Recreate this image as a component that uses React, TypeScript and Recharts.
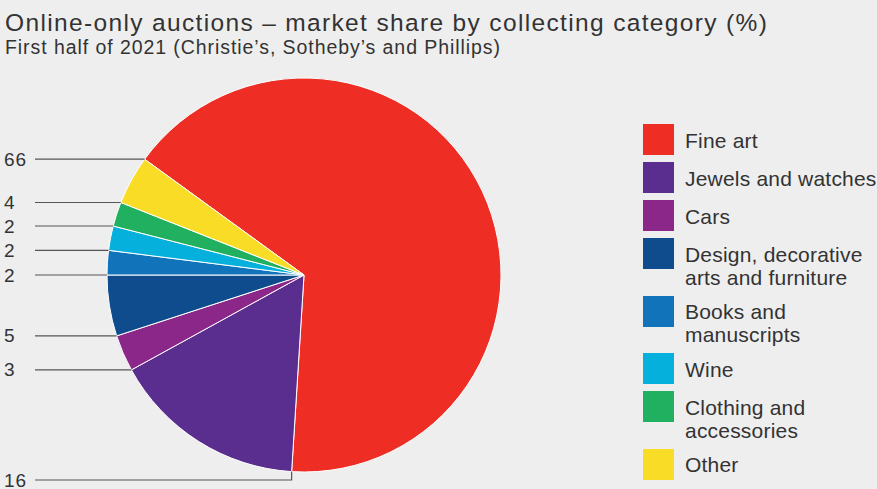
import React from "react";
import { PieChart, Pie, Cell } from "recharts";

// Market share by collecting category, online-only sales, H1 2021 (%)
const categories = [
  "Fine art",
  "Jewels and watches",
  "Cars",
  "Design, decorative arts and furniture",
  "Books and manuscripts",
  "Wine",
  "Clothing and accessories",
  "Other",
];
const shares = [66, 16, 3, 5, 2, 2, 2, 4];
const colors = [
  "#ee2e25",
  "#5a2e8e",
  "#8c278a",
  "#0f4c8e",
  "#1174bb",
  "#05b0dc",
  "#20b05f",
  "#f8dc26",
];

const TITLE = "Online-only auctions \u2013 market share by collecting category (%)";
const SUBTITLE = "First half of 2021 (Christie\u2019s, Sotheby\u2019s and Phillips)";

const data = categories.map((name, i) => ({ name, value: shares[i] }));

const FONT = "'Liberation Sans', Arial, Helvetica, sans-serif";
const TEXT_COLOR = "#333333";
const RAD = Math.PI / 180;

// Values sit on the far left, each joined by a rule to the start edge of its slice.
const renderValueLabel = (props: any) => {
  const { cx, cy, outerRadius, startAngle, value, index } = props;
  const px = cx + outerRadius * Math.cos(startAngle * RAD);
  const py = cy - outerRadius * Math.sin(startAngle * RAD);
  const nearBottom = py > cy + outerRadius * 0.95;
  const ly = nearBottom ? cy + outerRadius + 8 : py;
  const points = nearBottom
    ? `35,${ly} ${px},${ly} ${px},${py}`
    : `35,${ly} ${px},${ly}`;
  return (
    <g key={`lbl-${index}`}>
      <polyline points={points} fill="none" stroke="#555" strokeWidth={1.2} />
      <text
        x={4}
        y={ly}
        dominantBaseline="central"
        fontFamily={FONT}
        fontSize={19}
        letterSpacing={1}
        fill={TEXT_COLOR}
      >
        {value}
      </text>
    </g>
  );
};

function CategoryKey() {
  return (
    <div
      style={{
        position: "absolute",
        left: 643,
        top: 124,
        fontFamily: FONT,
        fontSize: 21,
        letterSpacing: 0.2,
        color: TEXT_COLOR,
      }}
    >
      {categories.map((name, i) => (
        <div key={name} style={{ display: "flex", alignItems: "flex-start", marginBottom: 7 }}>
          <div style={{ width: 31, height: 31, background: colors[i], flex: "0 0 31px" }} />
          <div style={{ marginLeft: 11, paddingTop: 4.5, lineHeight: "23px", width: 195 }}>
            {name}
          </div>
        </div>
      ))}
    </div>
  );
}

export default function App() {
  return (
    <div
      style={{
        position: "absolute",
        left: 0,
        top: 0,
        width: 877,
        height: 489,
        background: "#eeeeee",
        overflow: "hidden",
      }}
    >
      <div
        style={{
          position: "absolute",
          left: 5,
          top: 7,
          fontFamily: FONT,
          fontSize: 24.5,
          letterSpacing: 1.35,
          color: TEXT_COLOR,
          whiteSpace: "nowrap",
          lineHeight: "32px",
        }}
      >
        {TITLE}
      </div>
      <div
        style={{
          position: "absolute",
          left: 5,
          top: 36,
          fontFamily: FONT,
          fontSize: 19.5,
          letterSpacing: 0.93,
          color: TEXT_COLOR,
          whiteSpace: "nowrap",
          lineHeight: "22px",
        }}
      >
        {SUBTITLE}
      </div>
      <PieChart
        width={877}
        height={489}
        margin={{ top: 0, right: 0, bottom: 0, left: 0 }}
        style={{ position: "absolute", left: 0, top: 0 }}
      >
        <Pie
          data={data}
          dataKey="value"
          nameKey="name"
          cx={304}
          cy={275}
          outerRadius={197}
          startAngle={144}
          endAngle={-216}
          stroke="#ffffff"
          strokeWidth={1}
          label={renderValueLabel}
          labelLine={false}
          isAnimationActive={false}
        >
          {data.map((d, i) => (
            <Cell key={d.name} fill={colors[i]} />
          ))}
        </Pie>
      </PieChart>
      <CategoryKey />
    </div>
  );
}
